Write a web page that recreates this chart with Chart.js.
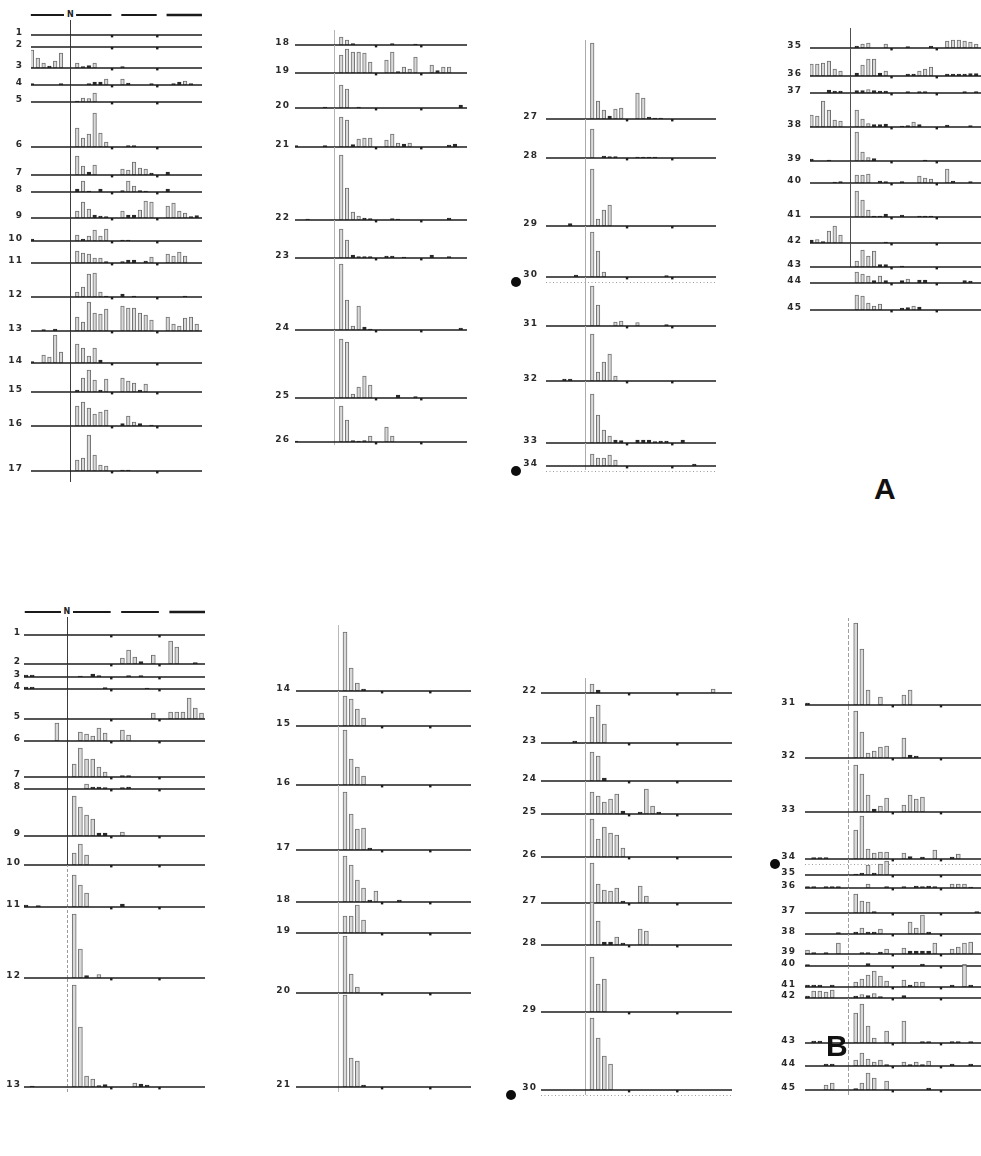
<!DOCTYPE html>
<html>
<head>
<meta charset="utf-8">
<title>Distribution rows, panels A and B</title>
<script src="https://cdn.jsdelivr.net/npm/chart.js@4.4.1/dist/chart.umd.min.js"></script>
<style>
  html, body { margin: 0; padding: 0; background: #fff; }
  #stage { position: relative; width: 981px; height: 1156px; overflow: hidden; background: #fff; }
  canvas.row { position: absolute; }
  .lbl { position: absolute; width: 34px; text-align: right; font: bold 9px "DejaVu Sans", sans-serif;
         letter-spacing: 1.2px; color: #2a2a2a; line-height: 10px; white-space: nowrap; }
  .nmark { position: absolute; width: 12px; text-align: center; font: bold 8px "DejaVu Sans", sans-serif;
           color: #222; line-height: 10px; background: #fff; }
  .panel { position: absolute; font: bold 30px "Liberation Sans", Arial, sans-serif; color: #111; line-height: 30px; }
</style>
</head>
<body>
<div id="stage"></div>
<script>
// ---------- data: heights per bin, 4 groups x 6 bins per row ----------
const rowsA1 = [1, 2, 3, 4, 5, 6, 7, 8, 9, 10, 11, 12, 13, 14, 15, 16, 17];
const countsA1 = [
  [0,0,0,0,0,0,  0,0,0,0,0,0,  0,0,0,0,0,0,  0,0,0,0,0,0],
  [0,0,0,0,0,0,  0,0,0,0,0,0,  0,0,0,0,0,0,  0,0,0,0,0,0],
  [18,10,5,2,7,15,  5,1.5,2.5,5,0,0,  1.5,0,0,0,0,0,  0,0,0,0,0,0],
  [1.5,0,0,0,0,1.5,  0,0,1.5,3,3,6,  6,2,0,0,0,1.5,  0,1.5,3,4,1.5,0],
  [0,0,0,0,0,0,  1,4,3.5,9,0,0,  0,0,0,0,0,0,  0,0,0,0,0,0],
  [0,0,0,0,0,0,  19,9,13,34,14,5,  0,1.5,1.5,0,0,0,  0,0,0,0,0,0],
  [0,0,0,0,0,0,  19,9,3,10,0,0,  6,5,13,7,6,2,  3,0,0,0,0,0],
  [0,0,0,0,0,0,  3,11,1,0,3,0,  1.5,11,6,1.5,1,0,  3,0,0,0,0,0],
  [0,0,0,0,0,0,  7,16,9,3,2,1.5,  7,3,3,8,17,16,  12,15,7,5,1.5,2.5],
  [2,0,0,0,0,0,  6,2,5,11,5,12,  1,1,0,0,0,0,  0,0,0,0,0,0],
  [0,0,0,0,0,0,  12,10,9,5,5,1.5,  1.5,3,3,0,2,6,  9,7,11,7,0,0],
  [0,0,0,0,0,0,  5,10,23,24,5,1,  3,0,1,0,0,0,  0,0,0,1,0,0],
  [0,0,1.5,0,2,0,  14,9,29,18,17,22,  25,23,23,18,16,11,  14,7,5,13,14,7],
  [1.5,0,8,6,28,11,  19,15,7,15,3,0,  0,0,0,0,0,0,  0,0,0,0,0,0],
  [0,0,0,0,0,0,  2,14,22,12,2,13,  14,11,9,2,8,0,  0,0,0,0,0,0],
  [0,0,0,0,0,0,  20,24,18,12,14,16,  2.5,10,4,2.5,0,1,  0,0,0,0,0,0],
  [0,0,0,0,0,0,  11,13,36,16,6,5,  1,1,0,0,0,0,  0,0,0,0,0,0]
];

const rowsA2 = [18, 19, 20, 21, 22, 23, 24, 25, 26];
const countsA2 = [
  [0,0,0,0,0,0,  8,5,1.5,0,0,0,  0,1.5,0,0,0,1,  0,0,0,0,0,0],
  [0,0,0,0,0,0,  18,24,21,21,20,11,  13,21,1.5,6,4,16,  8,2.5,6,6,0,0],
  [0,0,0,0,0,1,  23,19,0,1,0,0,  0,0,0,0,0,0,  0,0,0,0,0,3],
  [1.5,0,0,0,0,1.5,  30,27,2.5,8,9,9,  7,13,4,3,4,0,  0,0,0,2,3,0],
  [0,0,1,0,0,0,  65,32,8,4,2,1.5,  0,1.5,1,0,0,0,  0,0,0,2,0,0],
  [0,0,0,0,0,0,  29,18,3,1.5,1.5,1.5,  2,2,0,1,0,0,  3,0,0,1.5,0,0],
  [0,0,0,0,0,0,  66,30,4,24,3,1,  0,0,0,0,0,0,  0,0,0,0,0,2],
  [0,0,0,0,0,0,  59,56,4,11,22,13,  0,0,3,0,0,1.5,  0,0,0,0,0,0],
  [1,0,0,0,0,0,  36,22,1.5,1,1.5,6,  15,6,0,0,0,0,  0,0,0,0,0,0]
];

const rowsA3 = [27, 28, 29, 30, 31, 32, 33, 34];
const countsA3 = [
  [0,0,0,0,0,0,  76,18,9,3,10,11,  26,21,2,1,1,0,  0,0,0,0,0,0],
  [0,0,0,0,0,0,  29,0,2,1.5,1.5,0,  1,1,1,1,0,0,  0,0,0,0,0,0],
  [0,0,0,0,2.5,0,  57,7,16,21,0,0,  0,0,0,0,0,0,  0,0,0,0,0,0],
  [0,0,0,0,0,2,  45,26,5,0,0,0,  0,0,0,0,0,1.5,  0,0,0,0,0,0],
  [0,0,0,0,0,0,  40,21,0,0,4,5,  3.5,0,0,0,0,1.5,  0,0,0,0,0,0],
  [0,0,0,2,2,0,  47,9,19,27,5,0,  0,0,0,0,0,0,  0,0,0,0,0,0],
  [0,0,0,0,0,0,  49,28,13,7,3,2.5,  3,3,3,1.5,2,2,  3,0,0,0,0,0],
  [0,0,0,0,0,0,  12,8,8,11,6,0,  0,0,0,0,0,0,  0,0,2,0,0,0]
];

const rowsA4 = [35, 36, 37, 38, 39, 40, 41, 42, 43, 44, 45];
const countsA4 = [
  [0,0,0,0,0,0,  2,4,5,0,0,4,  0,1.5,0,0,0,2,  7,8,8,7,6,4],
  [12,12,13,15,7,5,  3,11,17,17,3,5,  0,2,2,5,7,9,  2,2,2,2,2.5,2.5],
  [0,0,0,3,2,2,  2.5,2.5,3.5,2.5,2,2,  0,1.5,0,1.5,1.5,0,  0,0,0,1.5,0,1.5],
  [12,11,26,17,7,6,  17,8,3.5,2.5,2.5,3,  1,1.5,5,2.5,0,0,  2,0,0,0,1.5,0],
  [2,0,0,1,0,0,  29,9,3.5,2.5,0,0,  0,0,0,0,1,0,  0,0,0,0,0,0],
  [0,0,0,0,1,1.5,  8,8,9,0,2,1.5,  1.5,0,0,7,5,4,  14,2,0,0,1.5,0],
  [0,0,0,0,0,0,  26,17,7,1,1,3,  2,0,0,1,1,1,  0,0,0,0,0,0],
  [3,3.5,1.5,12,17,8,  0,0,0,0,0,1,  0,0,0,0,0,0,  0,0,0,0,0,0],
  [0,0,0,0,0,0,  6,17,11,16,2.5,2.5,  1,0,0,0,0,0,  0,0,0,0,0,0],
  [0,0,0,0,0,0,  11,9,7,2.5,7,2.5,  2.5,4,0,3,3,0,  0,0,0,2.5,2,0],
  [0,0,0,0,0,0,  15,14,7,4,6,0,  2,2.5,4,3,0,0,  0,0,0,0,0,0]
];

const rowsB1 = [1, 2, 3, 4, 5, 6, 7, 8, 9, 10, 11, 12, 13];
const countsB1 = [
  [0,0,0,0,0,0,  0,0,0,0,0,0,  0,0,0,0,0,0,  0,0,0,0,0,0],
  [0,0,0,0,0,0,  0,0,0,0,0,0,  6,14,7,2.5,0,9,  23,17,0,0,1.5,0],
  [2,2,0,0,0,0,  0,1,0,3,1.5,0,  0,1.5,0,1.5,0,0,  0,0,0,0,0,0],
  [2,2,0,0,0,0,  0,0,0,0,0,1.5,  0,0,0,0,1,0,  0,0,0,0,0,0],
  [0,0,0,0,0,0,  0,0,0,0,0,0,  0,0,0,0,0,6,  7,7,7,21,11,6],
  [0,0,0,0,0,18,  0,9,7,5,13,8,  11,6,0,0,0,0,  0,0,0,0,0,0],
  [0,0,0,0,0,0,  13,29,18,18,10,5,  1.5,1.5,0,0,0,0,  0,0,0,0,0,0],
  [0,0,0,0,0,0,  0,0,5,2,2,1.5,  1.5,2,0,0,0,0,  0,0,0,0,0,0],
  [0,0,0,0,0,0,  40,29,21,17,3,3,  4,0,0,0,0,0,  0,0,0,0,0,0],
  [0,0,0,0,0,0,  12,21,10,0,0,0,  0,0,0,0,0,0,  0,0,0,0,0,0],
  [2,0,1.5,0,0,0,  32,22,14,0,0,0,  3,0,0,0,0,0,  0,0,0,0,0,0],
  [0,0,0,0,0,0,  64,29,2.5,0,3.5,0,  0,0,0,0,0,0,  0,0,0,0,0,0],
  [0,1,0,0,0,0,  102,60,11,8,1.5,2.5,  0,0,4,3,2,0,  0,0,0,0,0,0]
];

const rowsB2 = [14, 15, 16, 17, 18, 19, 20, 21];
const countsB2 = [
  [0,0,0,0,0,0,  59,23,8,2,0,0,  0,0,0,0,0,0,  0,0,0,0,0,0],
  [0,0,0,0,0,0,  30,27,17,8,0,0,  0,0,0,0,0,0,  0,0,0,0,0,0],
  [0,0,0,0,0,0,  55,26,18,9,0,0,  0,0,0,0,0,0,  0,0,0,0,0,0],
  [0,0,0,0,0,0,  58,36,21,22,2,0,  0,0,0,0,0,0,  0,0,0,0,0,0],
  [0,0,0,0,0,0,  46,37,22,14,2,11,  0,2,0,0,0,0,  0,0,0,0,0,0],
  [0,0,0,0,0,0,  17,17,28,13,0,0,  0,0,0,0,0,0,  0,0,0,0,0,0],
  [0,0,0,0,0,0,  57,19,6,0,0,0,  0,0,0,0,0,0,  0,0,0,0,0,0],
  [0,0,0,0,0,0,  92,29,26,2,0,0,  0,0,0,0,0,0,  0,0,0,0,0,0]
];

const rowsB3 = [22, 23, 24, 25, 26, 27, 28, 29, 30];
const countsB3 = [
  [0,0,0,0,0,0,  9,3,0,0,0,0,  0,0,0,0,0,0,  0,0,0,0,4,0],
  [0,0,0,0,0,2,  26,38,19,0,0,0,  0,0,0,0,0,0,  0,0,0,0,0,0],
  [0,0,0,0,0,0,  29,25,3,0,0,0,  0,0,0,0,0,0,  0,0,0,0,0,0],
  [0,0,0,0,0,0,  22,18,12,15,20,3,  2,25,8,2,0,0,  0,0,0,0,0,0],
  [0,0,0,0,0,0,  38,18,30,24,22,9,  0,0,0,0,0,0,  0,0,0,0,0,0],
  [0,0,0,0,0,0,  40,19,13,12,15,2,  17,7,0,0,0,0,  0,0,0,0,0,0],
  [0,0,0,0,0,0,  43,24,3,3,8,2,  16,14,0,0,0,0,  0,0,0,0,0,0],
  [0,0,0,0,0,0,  55,28,33,0,0,0,  0,0,0,0,0,0,  0,0,0,0,0,0],
  [0,0,0,0,0,0,  72,52,34,26,0,0,  0,0,0,0,0,0,  0,0,0,0,0,0]
];

const rowsB4 = [31, 32, 33, 34, 35, 36, 37, 38, 39, 40, 41, 42, 43, 44, 45];
const countsB4 = [
  [2,0,0,0,0,0,  82,56,15,0,8,0,  10,15,0,0,0,0,  0,0,0,0,0,0],
  [0,0,0,0,0,0,  47,26,5,7,11,12,  20,3,2,0,0,0,  0,0,0,0,0,0],
  [0,0,0,0,0,0,  47,38,17,3,6,14,  7,17,13,15,0,0,  0,0,0,0,0,0],
  [0,1.5,1.5,1.5,0,0,  29,43,10,6,7,7,  6,2.5,0,2,0,9,  2,5,0,0,0,0],
  [0,0,0,0,0,0,  1,2,10,2,11,14,  0,0,0,0,0,0,  0,0,0,0,0,0],
  [1.5,1.5,0,1.5,1.5,1.5,  0,0,4,0,0,1.5,  1.5,0,2,1.5,2,1.5,  4,4,4,1,0,0],
  [0,0,0,0,0,0,  19,12,11,1.5,0,0,  0,0,0,0,0,0,  0,0,0,0,1.5,0],
  [0,0,0,0,0,1.5,  2,6,2,2,5,0,  0,12,6,19,2,0,  0,0,0,0,0,0],
  [4,1.5,0,1.5,0,11,  0,1.5,1.5,0,2,5,  6,3,3,3,3,11,  5,7,11,12,0,0],
  [1.5,0,0,0,0,0,  0,0,2.5,0,0,0,  0,0,0,2,0,0,  0,0,1.5,0,0,0],
  [2,2,2,0,2,0,  5,8,12,16,11,6,  7,2,5,5,0,0,  2,0,22,2,0,0],
  [2,7,7,6,8,0,  2,3.5,2.5,4.5,1.5,0,  2.5,0,0,0,0,0,  0,0,0,0,0,0],
  [0,2,2,0,0,0,  30,39,17,5,0,12,  22,0,0,1.5,1.5,0,  1.5,1.5,0,1.5,0,0],
  [0,0,0,2,2,0,  6,13,7,4,6,1.5,  4,1.5,4,1.5,5,0,  2,0,0,2,0,0],
  [0,0,0,5,7,0,  1.5,7,17,12,0,9,  0,0,0,0,2,0,  0,0,0,0,0,0]
];

// rows flagged with a filled dot (row numbers are unique within a panel)
const markedA = [30, 34];
const markedB = [30, 34];

// ---------- bin geometry (in bin units) ----------
const BINS_PER_GROUP = 6;
const GROUP_STEP = 7.8;          // bins + gap between groups
const N_BIN = 6.6;               // reference line between group 0 and group 1
const GROUP_TICKS = [13.8, 21.6];
function binPos(i) { return Math.floor(i / BINS_PER_GROUP) * GROUP_STEP + (i % BINS_PER_GROUP); }

// ---------- page layout ----------
const ABOVE = 125, BELOW = 12, PADL = 40;

const columns = [
  { rows: rowsA1, counts: countsA1, marked: markedA, base: [35,47,68,85,102,147,175,192,218,241,263,297,331,363,392,426,471],
    left: 31, right: 202, c0: 32, s: 5.8, labelRight: 22, bar: 3.6, header: 15,
    nTop: 14, nBottom: 482, nColor: '#3c3c3c' },
  { rows: rowsA2, counts: countsA2, marked: markedA, base: [45,73,108,147,220,258,330,398,442],
    left: 295, right: 467, c0: 296, s: 5.8, labelRight: 289, bar: 3.6,
    nTop: 30, nBottom: 445, nColor: '#b4b4b4' },
  { rows: rowsA3, counts: countsA3, marked: markedA, base: [119,158,226,277,326,381,443,466],
    left: 546, right: 716, c0: 547, s: 5.8, labelRight: 537, bar: 3.6,
    nTop: 40, nBottom: 470, nColor: '#acacac' },
  { rows: rowsA4, counts: countsA4, marked: markedA, base: [48,76,93,127,161,183,217,243,267,283,310],
    left: 810, right: 981, c0: 811.5, s: 5.8, labelRight: 801, bar: 3.6,
    nTop: 28, nBottom: 267, nColor: '#505050', nUntil: 43 },
  { rows: rowsB1, counts: countsB1, marked: markedB, base: [635,664,677,689,719,741,777,789,836,865,907,978,1087],
    left: 24, right: 205, c0: 26, s: 6.18, labelRight: 20, bar: 4, header: 612,
    nTop: 612, nBottom: 1092, nColor: '#3c3c3c', nFaintFrom: 11, nFaint: '#9a9a9a' },
  { rows: rowsB2, counts: countsB2, marked: markedB, base: [691,726,785,850,902,933,993,1087],
    left: 296, right: 471, c0: 296.8, s: 6.18, labelRight: 290, bar: 4,
    nTop: 625, nBottom: 1092, nColor: '#b8b8b8' },
  { rows: rowsB3, counts: countsB3, marked: markedB, base: [693,743,781,814,857,903,945,1012,1090],
    left: 541, right: 732, c0: 543.8, s: 6.18, labelRight: 536, bar: 4,
    nTop: 678, nBottom: 1095, nColor: '#ababab' },
  { rows: rowsB4, counts: countsB4, marked: markedB, base: [705,758,812,859,875,888,913,934,954,966,987,998,1043,1066,1090],
    left: 805, right: 981, c0: 807.5, s: 6.18, labelRight: 795, bar: 4,
    nTop: 618, nBottom: 1095, nColor: '#a0a0a0', nDash: [4, 2] }
];

// ---------- per-row decorations: reference line, baseline, group ticks, header, markers ----------
const rowDecor = {
  id: 'rowDecor',
  beforeDatasetsDraw(chart, _args, o) {
    if (!o.nShow) return;
    const { ctx, scales: { x, y } } = chart;
    const y0 = y.getPixelForValue(0);
    const nx = Math.round(x.getPixelForValue(N_BIN)) + 0.5;
    ctx.save();
    ctx.strokeStyle = o.nColor;
    ctx.lineWidth = 1;
    if (o.nDash) ctx.setLineDash(o.nDash);
    ctx.beginPath();
    ctx.moveTo(nx, y0 + o.down);
    ctx.lineTo(nx, y0 - o.up);
    ctx.stroke();
    ctx.restore();
  },
  afterDatasetsDraw(chart, _args, o) {
    const { ctx, chartArea: ca, scales: { x, y } } = chart;
    const y0 = y.getPixelForValue(0);
    ctx.save();
    // baseline
    ctx.strokeStyle = '#1c1c1c';
    ctx.lineWidth = 1.4;
    ctx.beginPath();
    ctx.moveTo(ca.left, y0);
    ctx.lineTo(ca.right, y0);
    ctx.stroke();
    // small marks at the group boundaries
    ctx.fillStyle = '#1c1c1c';
    GROUP_TICKS.forEach(b => {
      const px = x.getPixelForValue(b);
      ctx.fillRect(px - 1.2, y0, 2.4, 2.4);
    });
    // group header bars above the first row
    if (o.header) {
      const hy = y0 - o.header;
      ctx.strokeStyle = '#1a1a1a';
      for (let g = 0; g < 4; g++) {
        ctx.lineWidth = g === 3 ? 2.4 : 1.8;
        ctx.beginPath();
        ctx.moveTo(x.getPixelForValue(g * GROUP_STEP - 0.2), hy);
        ctx.lineTo(x.getPixelForValue(g * GROUP_STEP + 5.9), hy);
        ctx.stroke();
      }
    }
    // flagged rows: dotted rule under the baseline and a filled dot
    if (o.marked) {
      ctx.strokeStyle = '#9c9c9c';
      ctx.lineWidth = 1;
      ctx.setLineDash([1, 2.5]);
      ctx.beginPath();
      ctx.moveTo(ca.left, y0 + 5.5);
      ctx.lineTo(ca.right, y0 + 5.5);
      ctx.stroke();
      ctx.setLineDash([]);
      ctx.fillStyle = '#0d0d0d';
      ctx.beginPath();
      ctx.arc(ca.left - 30, y0 + 5, 5, 0, Math.PI * 2);
      ctx.fill();
    }
    ctx.restore();
  }
};

const stage = document.getElementById('stage');
const isSmall = c => c.raw && c.raw.y <= 3;

columns.forEach(col => {
  col.rows.forEach((num, r) => {
    const yBase = col.base[r];
    const cv = document.createElement('canvas');
    cv.className = 'row';
    cv.width = col.right - col.left + PADL;
    cv.height = ABOVE + BELOW;
    cv.style.left = (col.left - PADL) + 'px';
    cv.style.top = (yBase - ABOVE) + 'px';
    stage.appendChild(cv);

    const pts = col.counts[r].map((v, i) => ({ x: binPos(i), y: v })).filter(p => p.y > 0);
    const last = r === col.rows.length - 1 || (col.nUntil && num === col.nUntil);
    const nShow = !col.nUntil || num <= col.nUntil;
    const faint = col.nFaintFrom && num >= col.nFaintFrom;

    new Chart(cv, {
      type: 'bar',
      data: {
        datasets: [{
          data: pts,
          barThickness: col.bar,
          borderWidth: 1,
          borderSkipped: false,
          backgroundColor: c => isSmall(c) ? '#2b2b2b' : '#d9d9d9',
          borderColor: c => isSmall(c) ? '#2b2b2b' : '#6e6e6e'
        }]
      },
      options: {
        responsive: false,
        animation: false,
        events: [],
        layout: { padding: { left: PADL, right: 0, top: 0, bottom: BELOW } },
        plugins: {
          legend: { display: false },
          tooltip: { enabled: false },
          rowDecor: {
            nShow,
            nColor: faint ? col.nFaint : col.nColor,
            nDash: faint ? [3, 2] : col.nDash,
            up: r === 0 ? yBase - col.nTop : yBase - col.base[r - 1],
            down: last ? Math.max(0, Math.min(col.nBottom - yBase, BELOW)) : 0,
            header: (r === 0 && col.header) ? yBase - col.header : 0,
            marked: col.marked.includes(num)
          }
        },
        scales: {
          x: { type: 'linear', display: false, offset: false,
               min: (col.left - col.c0) / col.s, max: (col.right - col.c0) / col.s },
          y: { display: false, min: 0, max: ABOVE }
        }
      },
      plugins: [rowDecor]
    });

    const lab = document.createElement('div');
    lab.className = 'lbl';
    lab.textContent = num;
    lab.style.left = (col.labelRight - 34 + 1.2) + 'px';
    lab.style.top = (yBase - 8) + 'px';
    stage.appendChild(lab);
  });

  if (col.header) {
    const n = document.createElement('div');
    n.className = 'nmark';
    n.textContent = 'N';
    n.style.left = (col.c0 + N_BIN * col.s - 6) + 'px';
    n.style.top = (col.header - 5) + 'px';
    stage.appendChild(n);
  }
});

[['A', 874, 474], ['B', 826, 1031]].forEach(([t, lx, ty]) => {
  const d = document.createElement('div');
  d.className = 'panel';
  d.textContent = t;
  d.style.left = lx + 'px';
  d.style.top = ty + 'px';
  stage.appendChild(d);
});
</script>
</body>
</html>
